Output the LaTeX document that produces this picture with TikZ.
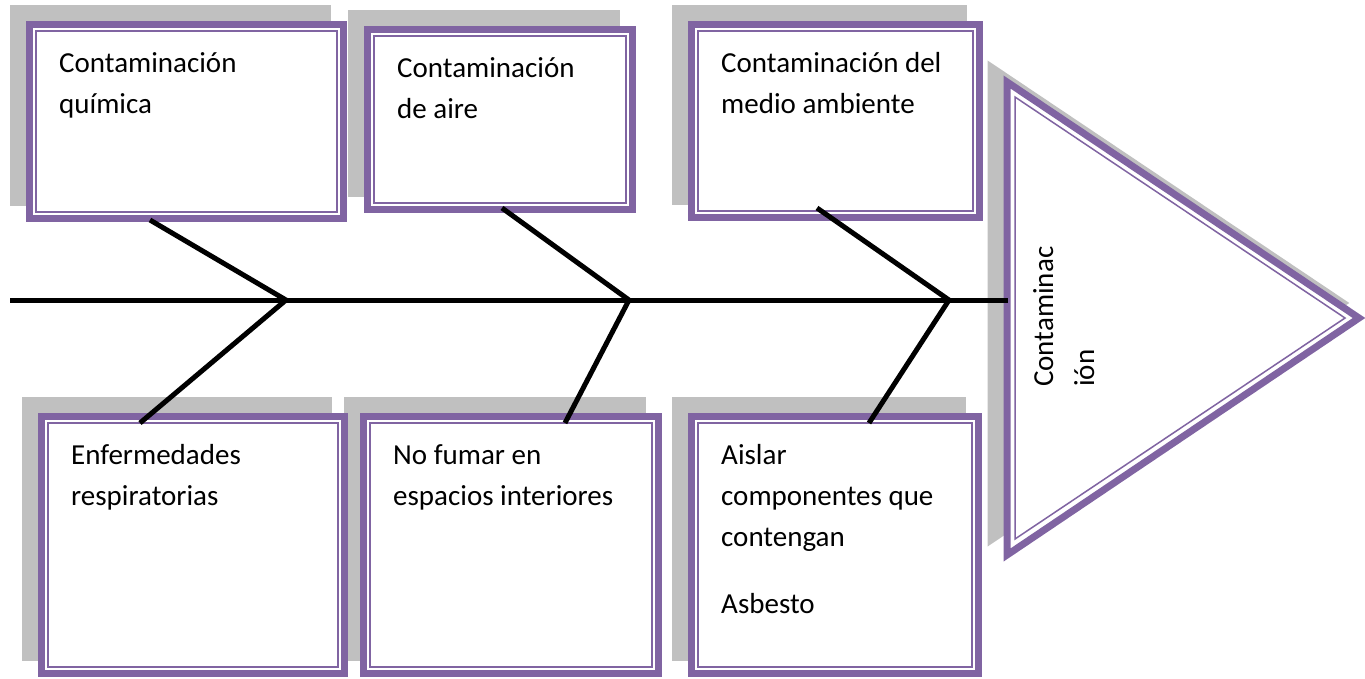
\documentclass[tikz,border=0pt]{standalone}
\usepackage{fontspec}
\setmainfont{Carlito}
\usetikzlibrary{positioning,backgrounds}
\definecolor{frame}{RGB}{128,100,162}
\definecolor{shadowgray}{RGB}{192,192,192}
\tikzstyle{card} = [draw=frame, line width=7pt, fill=white]
\tikzstyle{txt} = [align=left, inner sep=0pt, font=\fontsize{29}{41}\selectfont]
\tikzstyle{bone} = [line width=5pt]

\begin{document}
\begin{tikzpicture}[x=1pt,y=-1pt]
  \useasboundingbox (0,0) rectangle (1365,678);
  \node (a) at (186.5,121.5) [card, minimum width=314pt, minimum height=194pt] {};
  \node (b) at (500,119.5) [card, minimum width=265pt, minimum height=180pt] {};
  \node (c) at (835.5,121) [card, minimum width=288pt, minimum height=193pt] {};
  \node (d) at (193,545) [card, minimum width=303pt, minimum height=257pt] {};
  \node (e) at (511,545) [card, minimum width=295pt, minimum height=257pt] {};
  \node (f) at (835,545) [card, minimum width=287pt, minimum height=257pt] {};
  \foreach \n in {a,b,c,d,e,f}
    \draw [frame, line width=1.5pt] ([shift={(10,10)}]\n.north west) rectangle ([shift={(-10,-10)}]\n.south east);

  \begin{scope}[on background layer]
    \foreach \n in {a,b,c,d,e,f}
      \fill [shadowgray] ([shift={(-16,-16)}]\n.north west) rectangle ([shift={(-16,-16)}]\n.south east);
    \filldraw [shadowgray, line width=7pt, shift={(-16,-15)}] (1007,82) -- (1007,555) -- (1359,318) -- cycle;
  \end{scope}

  \filldraw [fill=white, draw=frame, line width=7pt] (1007,82) -- (1007,555) -- (1359,318) -- cycle;
  \draw [frame, line width=1.5pt] (1015,97) -- (1015,539) -- (1345,318) -- cycle;

  \node (ta) [txt, below right=31pt and 33pt of a.north west] {Contaminación\\química};
  \node (tb) [txt, below right=31pt and 33pt of b.north west] {Contaminación\\de aire};
  \node (tc) [txt, below right=31pt and 33pt of c.north west] {Contaminación del\\medio ambiente};
  \node (td) [txt, below right=31pt and 33pt of d.north west] {Enfermedades\\respiratorias};
  \node (te) [txt, below right=31pt and 33pt of e.north west] {No fumar en\\espacios interiores};
  \node (tf) [txt, below right=31pt and 33pt of f.north west] {Aislar\\componentes que\\contengan\\[26pt]Asbesto};
  \node (m) at (1033,387) [txt, rotate=90, anchor=north west] {Contaminac\\ión};

  \coordinate (t) at (10,300);
  \coordinate (h) at (1008,300);
  \coordinate (j1) at (286,300);
  \coordinate (j2) at (629,300);
  \coordinate (j3) at (949,300);
  \draw [bone] (t) -- (h);
  \draw [bone] ([shift={(-36.5,-2)}]a.south) -- (j1) -- ([shift={(-53,10)}]d.north);
  \draw [bone] ([shift={(2,-5)}]b.south) -- (j2) -- ([shift={(54,10)}]e.north);
  \draw [bone] ([shift={(-18.5,-13)}]c.south) -- (j3) -- ([shift={(34,10)}]f.north);
\end{tikzpicture}
\end{document}
